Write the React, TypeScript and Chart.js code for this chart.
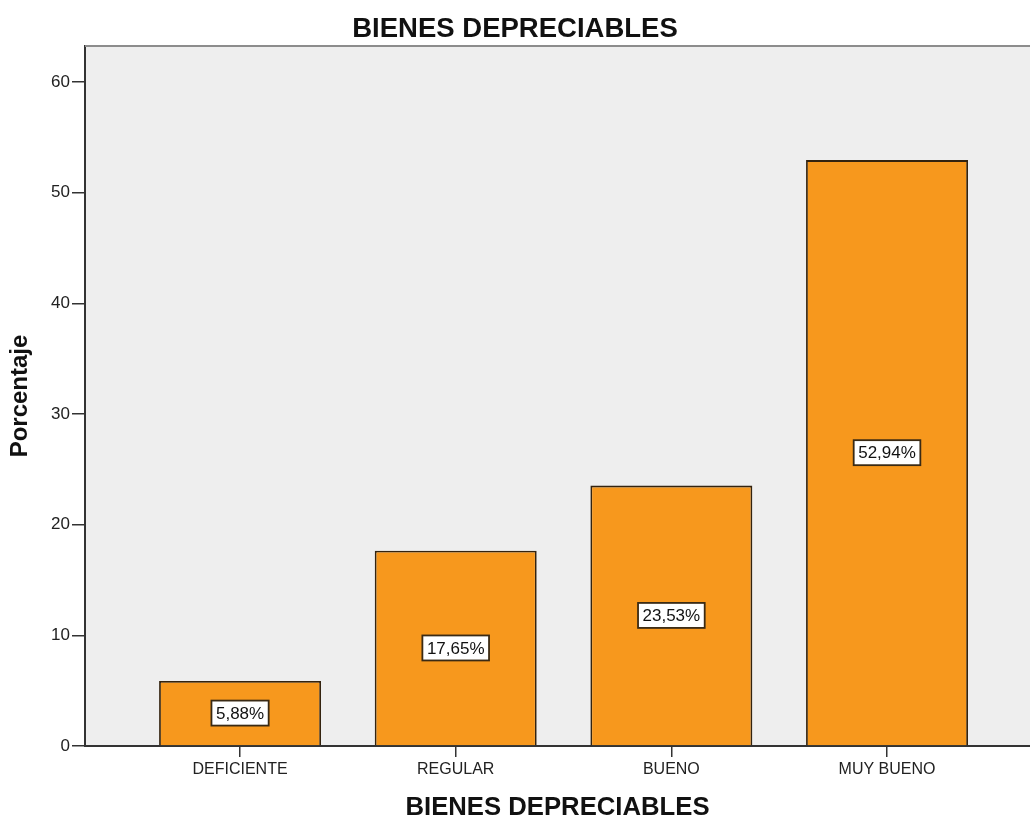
import React, { useEffect, useRef } from "react";
import { Chart, registerables } from "chart.js";

Chart.register(...registerables);

const categories = ["DEFICIENTE", "REGULAR", "BUENO", "MUY BUENO"];
const percentages = [5.88, 17.65, 23.53, 52.94];
const valueLabels = ["5,88%", "17,65%", "23,53%", "52,94%"];
const yTicks = [0, 10, 20, 30, 40, 50, 60];
const chartTitle = "BIENES DEPRECIABLES";
const xTitle = "BIENES DEPRECIABLES";
const yTitle = "Porcentaje";

const FONT = "'Liberation Sans', Arial, sans-serif";

const plotBg = {
  id: "plotBg",
  beforeDraw(chart: any) {
    const { ctx, chartArea } = chart;
    ctx.save();
    ctx.fillStyle = "#EEEEEE";
    ctx.fillRect(chartArea.left, chartArea.top, chartArea.right - chartArea.left, chartArea.bottom - chartArea.top);
    ctx.restore();
  },
  afterDraw(chart: any) {
    const { ctx, chartArea } = chart;
    ctx.save();
    ctx.strokeStyle = "#8C8C8C";
    ctx.lineWidth = 2;
    ctx.beginPath();
    ctx.moveTo(chartArea.left, chartArea.top);
    ctx.lineTo(chartArea.right, chartArea.top);
    ctx.stroke();
    ctx.restore();
  },
};

const boxLabels = {
  id: "boxLabels",
  afterDatasetsDraw(chart: any) {
    const { ctx } = chart;
    const meta = chart.getDatasetMeta(0);
    ctx.save();
    ctx.font = `17px ${FONT}`;
    ctx.textAlign = "center";
    ctx.textBaseline = "middle";
    meta.data.forEach((bar: any, i: number) => {
      const text = valueLabels[i];
      const cx = bar.x;
      const cy = (bar.y + bar.base) / 2;
      const w = ctx.measureText(text).width + 9;
      const h = 25;
      ctx.fillStyle = "#FFFFFF";
      ctx.fillRect(cx - w / 2, cy - h / 2, w, h);
      ctx.strokeStyle = "#3A2A14";
      ctx.lineWidth = 1.8;
      ctx.strokeRect(cx - w / 2, cy - h / 2, w, h);
      ctx.fillStyle = "#111111";
      ctx.fillText(text, cx, cy + 1);
    });
    ctx.restore();
  },
};

export default function App() {
  const ref = useRef<HTMLCanvasElement | null>(null);

  useEffect(() => {
    if (!ref.current) return;
    const chart = new Chart(ref.current, {
      type: "bar",
      data: {
        datasets: [
          {
            data: percentages.map((v, i) => ({ x: i, y: v })),
            backgroundColor: "#F7981D",
            borderColor: "#33230F",
            borderWidth: 1.8,
            borderSkipped: "bottom",
            categoryPercentage: 1,
            barPercentage: 0.751,
          },
        ],
      },
      options: {
        responsive: false,
        devicePixelRatio: 1,
        animation: false,
        layout: { padding: { left: 0, right: 0, top: 0, bottom: 0 } },
        plugins: {
          legend: { display: false },
          tooltip: { enabled: false },
          title: {
            display: true,
            text: chartTitle,
            color: "#111111",
            font: { family: FONT, size: 27.5, weight: "bold", lineHeight: 1.2 },
            padding: { top: 12.5, bottom: 0.5 },
          },
        },
        scales: {
          x: {
            type: "linear",
            offset: false,
            min: -0.719,
            max: 3.663,
            afterBuildTicks(scale: any) {
              scale.ticks = categories.map((_, i) => ({ value: i }));
            },
            afterFit(scale: any) {
              scale.height = 75;
            },
            ticks: {
              callback: (v: any) => categories[Math.round(Number(v))] ?? "",
              color: "#222222",
              font: { family: FONT, size: 16 },
              padding: 3,
              maxRotation: 0,
              autoSkip: false,
            },
            grid: {
              offset: false,
              drawOnChartArea: false,
              drawTicks: true,
              tickLength: 11,
              color: "#333333",
              lineWidth: 1.5,
            },
            border: { display: true, color: "#333333", width: 2 },
            title: {
              display: true,
              text: xTitle,
              color: "#111111",
              font: { family: FONT, size: 25.7, weight: "bold", lineHeight: 1 },
              padding: { top: 0, bottom: 0 },
            },
          },
          y: {
            min: 0,
            max: 63.25,
            afterBuildTicks(scale: any) {
              scale.ticks = yTicks.map((v) => ({ value: v }));
            },
            afterFit(scale: any) {
              scale.width = 85;
            },
            ticks: {
              color: "#222222",
              font: { family: FONT, size: 17 },
              padding: 2,
            },
            grid: {
              drawOnChartArea: false,
              drawTicks: true,
              tickLength: 13,
              color: "#333333",
              lineWidth: 1.5,
            },
            border: { display: true, color: "#333333", width: 2 },
            title: {
              display: true,
              text: yTitle,
              color: "#111111",
              font: { family: FONT, size: 24, weight: "bold", lineHeight: 1.2 },
              padding: { top: 5.6, bottom: 0 },
            },
          },
        },
      },
      plugins: [plotBg, boxLabels],
    } as any);
    return () => chart.destroy();
  }, []);

  return (
    <div style={{ position: "absolute", left: 0, top: 0, width: 1030, height: 821, background: "#FFFFFF" }}>
      <canvas ref={ref} width={1030} height={821} style={{ display: "block" }} />
    </div>
  );
}
